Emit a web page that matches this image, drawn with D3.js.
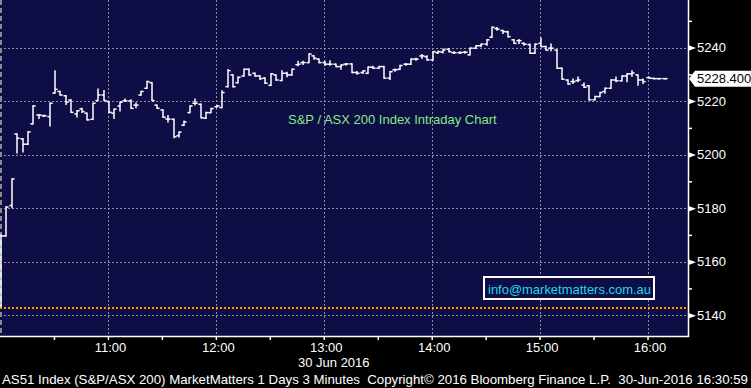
<!DOCTYPE html>
<html>
<head>
<meta charset="utf-8">
<script src="https://cdn.jsdelivr.net/npm/d3@7"></script>
<style>
  html, body { margin: 0; padding: 0; background: #000; }
  svg { display: block; font-family: "Liberation Sans", Arial, sans-serif; }
</style>
</head>
<body>
<script>
'use strict';

// 3-minute OHLC bars, 30 Jun 2016, first bar at 10:00
const sessionStart = new Date(2016, 5, 30, 10, 0);
const barMinutes = 3;

const open = [
  5143.4, 5169.6, 5181.0, 5207.7, 5205.9, 5203.9, 5211.5, 5214.8, 5214.5, 5214.2,
  5223.0, 5223.6, 5222.0, 5220.4, 5215.2, 5217.1, 5215.5, 5213.2, 5220.2, 5222.3,
  5219.8, 5215.5, 5218.2, 5220.1, 5220.1, 5218.5, 5222.3, 5224.8, 5226.9, 5218.5,
  5216.7, 5213.3, 5213.2, 5207.1, 5211.0, 5215.7, 5219.2, 5218.8, 5213.6, 5215.7,
  5217.9, 5217.6, 5225.4, 5229.8, 5226.9, 5229.4, 5231.9, 5230.4, 5229.4, 5228.6,
  5225.9, 5229.8, 5227.7, 5230.4, 5229.8, 5233.6, 5234.4, 5234.4, 5236.9, 5235.7,
  5234.4, 5233.8, 5233.8, 5232.9, 5233.8, 5233.9, 5230.7, 5230.7, 5230.4, 5232.7,
  5232.3, 5232.9, 5228.6, 5231.7, 5231.9, 5233.8, 5233.8, 5235.7, 5236.9, 5236.6,
  5235.4, 5238.1, 5238.3, 5239.4, 5238.1, 5238.1, 5238.3, 5237.3, 5239.8, 5240.7,
  5241.3, 5243.9, 5247.1, 5246.4, 5245.9, 5242.9, 5242.6, 5241.6, 5241.1, 5237.9,
  5241.6, 5240.4, 5239.8, 5239.1, 5232.3, 5227.9, 5227.3, 5227.7, 5226.0, 5225.7,
  5220.5, 5221.7, 5223.6, 5224.8, 5227.9, 5227.6, 5229.4, 5230.2, 5229.8, 5227.9,
  5228.8, 5228.5, 5228.4, 5228.4
];
const high = [
  5170.0, 5180.4, 5190.9, 5207.7, 5205.9, 5208.5, 5218.2, 5214.8, 5214.7, 5219.2,
  5231.3, 5223.6, 5222.0, 5220.4, 5216.4, 5217.2, 5215.5, 5219.2, 5224.4, 5223.9,
  5219.8, 5217.0, 5219.6, 5220.7, 5220.4, 5219.2, 5223.6, 5227.3, 5226.9, 5218.5,
  5216.7, 5214.5, 5213.2, 5208.4, 5212.5, 5218.2, 5220.7, 5218.8, 5215.7, 5217.2,
  5218.2, 5223.8, 5231.7, 5229.8, 5228.9, 5231.9, 5231.9, 5230.4, 5229.4, 5228.6,
  5230.2, 5229.8, 5231.3, 5230.7, 5231.9, 5234.8, 5234.8, 5237.6, 5236.9, 5235.7,
  5234.8, 5235.0, 5233.8, 5233.5, 5234.0, 5233.9, 5231.0, 5231.3, 5232.7, 5232.9,
  5232.9, 5232.9, 5231.0, 5231.9, 5233.3, 5234.0, 5235.7, 5235.9, 5237.3, 5236.9,
  5238.5, 5238.6, 5239.4, 5239.6, 5238.4, 5238.4, 5238.5, 5239.8, 5240.7, 5241.3,
  5242.9, 5247.6, 5247.4, 5246.4, 5246.0, 5242.9, 5242.9, 5241.6, 5241.3, 5241.3,
  5243.5, 5240.4, 5241.3, 5239.1, 5232.3, 5227.9, 5228.2, 5228.9, 5226.7, 5225.7,
  5221.7, 5223.2, 5224.8, 5227.9, 5228.9, 5229.4, 5230.2, 5231.3, 5229.8, 5228.2,
  5228.9, 5228.5, 5228.4, 5228.4
];
const low = [
  5143.4, 5169.6, 5180.2, 5200.7, 5201.1, 5203.9, 5211.5, 5213.6, 5214.3, 5210.8,
  5223.0, 5222.3, 5218.8, 5215.8, 5214.2, 5215.8, 5213.0, 5213.2, 5220.2, 5220.2,
  5215.8, 5213.6, 5216.4, 5220.1, 5217.3, 5217.6, 5222.3, 5224.8, 5220.2, 5217.3,
  5214.0, 5212.3, 5206.4, 5206.7, 5211.0, 5215.7, 5218.6, 5213.8, 5213.6, 5215.7,
  5217.8, 5217.6, 5225.4, 5225.4, 5226.9, 5229.4, 5229.8, 5229.4, 5228.2, 5226.7,
  5225.9, 5227.9, 5227.7, 5229.2, 5229.8, 5233.3, 5233.8, 5234.4, 5235.7, 5234.4,
  5233.5, 5233.5, 5232.9, 5232.0, 5233.5, 5230.7, 5230.1, 5230.4, 5230.4, 5232.3,
  5232.3, 5228.6, 5228.2, 5231.3, 5231.9, 5233.5, 5233.8, 5235.4, 5236.0, 5235.4,
  5235.4, 5237.9, 5238.1, 5238.5, 5237.9, 5237.9, 5238.0, 5237.3, 5239.8, 5240.4,
  5241.0, 5243.9, 5246.6, 5245.4, 5244.1, 5241.6, 5241.6, 5241.0, 5237.9, 5237.9,
  5240.4, 5239.1, 5238.9, 5232.3, 5228.2, 5226.4, 5226.7, 5227.3, 5225.2, 5220.5,
  5220.5, 5221.7, 5223.0, 5224.8, 5227.3, 5227.6, 5227.3, 5229.4, 5226.0, 5226.7,
  5228.6, 5228.4, 5228.4, 5228.4
];
const close = [
  5169.6, 5180.4, 5190.9, 5206.1, 5203.9, 5208.5, 5218.2, 5214.8, 5214.5, 5219.2,
  5224.4, 5222.3, 5219.6, 5215.8, 5216.4, 5216.1, 5213.0, 5219.2, 5222.3, 5220.2,
  5215.8, 5217.0, 5219.6, 5220.1, 5217.3, 5218.5, 5223.6, 5227.3, 5220.2, 5217.3,
  5214.0, 5213.3, 5206.7, 5208.4, 5212.2, 5218.2, 5219.2, 5213.8, 5215.7, 5217.2,
  5218.2, 5223.2, 5231.4, 5225.4, 5228.9, 5231.9, 5229.8, 5229.4, 5228.4, 5226.7,
  5230.2, 5227.9, 5230.4, 5229.8, 5231.9, 5233.8, 5234.4, 5237.6, 5236.0, 5234.4,
  5233.8, 5233.8, 5232.9, 5233.5, 5233.9, 5230.7, 5230.4, 5231.3, 5232.7, 5232.3,
  5232.9, 5228.6, 5231.0, 5231.7, 5233.3, 5233.8, 5235.7, 5235.7, 5236.9, 5235.4,
  5238.5, 5238.5, 5239.1, 5238.5, 5238.1, 5238.1, 5238.3, 5239.8, 5240.7, 5241.3,
  5242.9, 5247.6, 5246.9, 5246.0, 5244.1, 5241.6, 5242.6, 5241.3, 5237.9, 5241.3,
  5240.4, 5239.1, 5239.8, 5232.3, 5228.2, 5226.4, 5227.3, 5227.9, 5225.2, 5220.5,
  5221.7, 5223.2, 5224.8, 5227.9, 5227.6, 5229.4, 5230.2, 5230.5, 5227.9, 5227.3,
  5228.6, 5228.4, 5228.4, 5228.4
];

const yTicks = [5140, 5160, 5180, 5200, 5220, 5240];
const yMinorTicks = [5150, 5170, 5190, 5210, 5230, 5250];
const hourLabels = ["11:00", "12:00", "13:00", "14:00", "15:00", "16:00"];
const lastPrice = 5228.4;
const prevClose = 5142.7;

const W = 751, H = 388;
const plot = {w: 688, h: 336};

const svg = d3.select("body").append("svg")
  .attr("width", W)
  .attr("height", H);

svg.append("rect").attr("width", W).attr("height", H).attr("fill", "#000");

// scales
const x = d3.scaleTime()
  .domain([sessionStart, new Date(2016, 5, 30, 16, 22, 30)])
  .range([0, plot.w]);
const y = d3.scaleLinear()
  .domain([5132.2, 5257.8])
  .range([plot.h, 0]);

const parseHM = s => {
  const [hh, mm] = s.split(":").map(Number);
  return new Date(2016, 5, 30, hh, mm);
};
const hours = hourLabels.map(parseHM);

// plot background
svg.append("rect")
  .attr("width", plot.w)
  .attr("height", plot.h)
  .attr("fill", "#0f0d45");

// grid
const grid = svg.append("g")
  .attr("stroke", "#8f8f98")
  .attr("stroke-width", 1)
  .attr("stroke-dasharray", "2,2");
grid.selectAll(".hg").data(yTicks).enter().append("line")
  .attr("x1", 0).attr("x2", plot.w)
  .attr("y1", d => Math.round(y(d)) + 0.5)
  .attr("y2", d => Math.round(y(d)) + 0.5);
grid.selectAll(".vg").data(hours).enter().append("line")
  .attr("x1", d => Math.round(x(d)) + 0.5)
  .attr("x2", d => Math.round(x(d)) + 0.5)
  .attr("y1", 0).attr("y2", plot.h);

// left border (dashed)
svg.append("line")
  .attr("x1", 1).attr("x2", 1)
  .attr("y1", 0).attr("y2", plot.h)
  .attr("stroke", "#8a8a8a")
  .attr("stroke-width", 2)
  .attr("stroke-dasharray", "5,3");

// previous close (orange dotted)
svg.append("line")
  .attr("x1", 0).attr("x2", plot.w)
  .attr("y1", y(prevClose)).attr("y2", y(prevClose))
  .attr("stroke", "#ff9a00")
  .attr("stroke-width", 2)
  .attr("stroke-dasharray", "2,2");

// OHLC bars
const bars = d3.range(open.length).map(i => ({
  t: d3.timeMinute.offset(sessionStart, i * barMinutes),
  o: open[i], h: high[i], l: low[i], c: close[i]
}));
const bx = d => Math.round(x(d.t)) + 1;
const barG = svg.append("g")
  .attr("stroke", "#fff")
  .attr("stroke-width", 1.5)
  .attr("fill", "none");
const bar = barG.selectAll("g").data(bars).enter().append("g");
bar.append("line")
  .attr("x1", bx).attr("x2", bx)
  .attr("y1", d => y(d.h) - 0.75).attr("y2", d => y(d.l) + 0.75);
bar.append("line")
  .attr("x1", d => bx(d) - 2.6).attr("x2", bx)
  .attr("y1", d => y(d.o)).attr("y2", d => y(d.o));
bar.append("line")
  .attr("x1", bx).attr("x2", d => bx(d) + 2.6)
  .attr("y1", d => y(d.c)).attr("y2", d => y(d.c));

// chart title
svg.append("text")
  .attr("x", 288)
  .attr("y", 124)
  .attr("fill", "#86e886")
  .style("font-size", "13px")
  .text("S&P / ASX 200 Index Intraday Chart");

// info box
svg.append("rect")
  .attr("x", 484).attr("y", 277)
  .attr("width", 170).attr("height", 22)
  .attr("fill", "#0f0d45")
  .attr("stroke", "#fff")
  .attr("stroke-width", 2);
svg.append("text")
  .attr("x", 488)
  .attr("y", 294)
  .attr("fill", "#22d8e8")
  .style("font-size", "13px")
  .attr("textLength", 163)
  .attr("lengthAdjust", "spacingAndGlyphs")
  .text("info@marketmatters.com.au");

// plot frame: bottom and right
svg.append("line")
  .attr("x1", 0).attr("x2", plot.w + 1)
  .attr("y1", plot.h + 0.5).attr("y2", plot.h + 0.5)
  .attr("stroke", "#fff").attr("stroke-width", 1.5);
svg.append("line")
  .attr("x1", plot.w + 0.5).attr("x2", plot.w + 0.5)
  .attr("y1", 0).attr("y2", plot.h + 1)
  .attr("stroke", "#fff").attr("stroke-width", 1.5);

// right axis
const yAxis = svg.append("g")
  .attr("transform", `translate(${plot.w}, 0)`)
  .call(d3.axisRight(y).tickValues(yTicks).tickSize(0).tickPadding(9).tickFormat(d3.format("d")));
yAxis.select(".domain").remove();
yAxis.selectAll("text")
  .attr("fill", "#fff")
  .style("font-size", "13px")
  .style("font-family", "'Liberation Sans', Arial, sans-serif");
yAxis.selectAll(".tick").append("path")
  .attr("d", "M0,-3L8,0L0,3Z")
  .attr("fill", "#fff");

const yMinor = svg.append("g")
  .attr("transform", `translate(${plot.w}, 0)`)
  .call(d3.axisRight(y).tickValues(yMinorTicks).tickSize(4).tickFormat(""));
yMinor.select(".domain").remove();
yMinor.selectAll("line").attr("stroke", "#fff").attr("stroke-width", 1.5);

// last price label
const ly = y(lastPrice);
svg.append("path")
  .attr("d", `M${plot.w + 1},${ly} L${plot.w + 7},${ly - 8} L${W},${ly - 8} L${W},${ly + 8} L${plot.w + 7},${ly + 8} Z`)
  .attr("fill", "#fff");
svg.append("text")
  .attr("x", 697)
  .attr("y", ly)
  .attr("dy", "0.36em")
  .attr("fill", "#000")
  .style("font-size", "13px")
  .text(lastPrice.toFixed(3));

// bottom axis
const halfHours = d3.timeMinute.every(30).range(new Date(2016, 5, 30, 10, 30), new Date(2016, 5, 30, 16, 1));
const xAxis = svg.append("g")
  .attr("transform", `translate(0, ${plot.h})`)
  .call(d3.axisBottom(x)
    .tickValues(halfHours)
    .tickSize(4)
    .tickPadding(3)
    .tickFormat(d => d.getMinutes() === 0 ? d3.timeFormat("%H:%M")(d) : ""));
xAxis.select(".domain").remove();
xAxis.selectAll("line").attr("stroke", "#fff").attr("stroke-width", 1.5);
xAxis.selectAll("text")
  .attr("fill", "#fff")
  .attr("dx", 2)
  .style("font-size", "13px")
  .style("font-family", "'Liberation Sans', Arial, sans-serif");

svg.append("text")
  .attr("x", 298)
  .attr("y", 367)
  .attr("fill", "#fff")
  .style("font-size", "13px")
  .text("30 Jun 2016");

// footer
svg.append("text")
  .attr("x", 2)
  .attr("y", 384)
  .attr("fill", "#fff")
  .style("font-size", "13px")
  .attr("textLength", 746)
  .attr("lengthAdjust", "spacingAndGlyphs")
  .attr("xml:space", "preserve")
  .text("AS51 Index (S&P/ASX 200) MarketMatters 1 Days 3 Minutes  Copyright\u00a9 2016 Bloomberg Finance L.P.  30-Jun-2016 16:30:59");
</script>
</body>
</html>
